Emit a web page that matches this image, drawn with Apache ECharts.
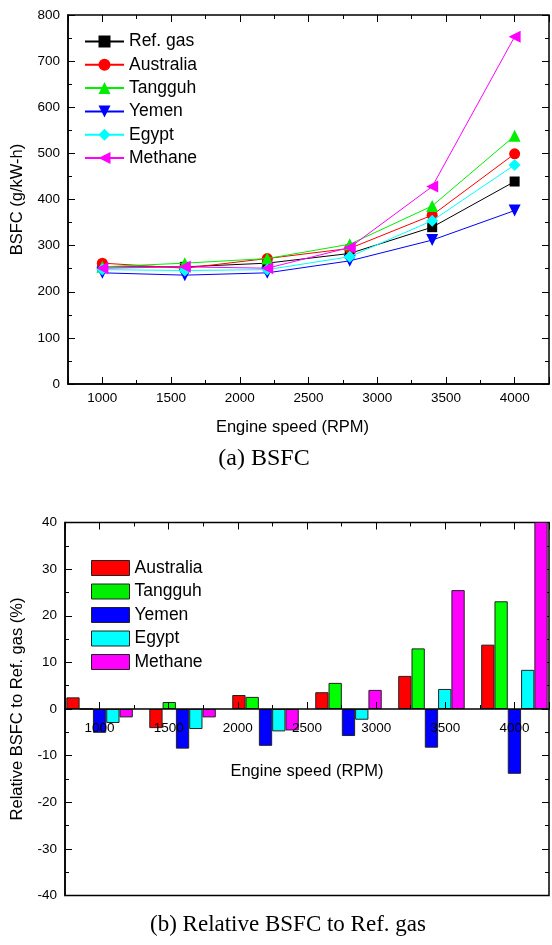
<!DOCTYPE html>
<html><head><meta charset="utf-8">
<script src="https://cdn.jsdelivr.net/npm/echarts@6/dist/echarts.min.js"></script>
<style>html,body{margin:0;padding:0;background:#fff}#c{width:552px;height:945px}</style>
</head><body><div id="c"></div>
<script>
// ---------- data ----------
const rpm = [1000, 1600, 2200, 2800, 3400, 4000];
const fuelNames = ['Ref. gas', 'Australia', 'Tangguh', 'Yemen', 'Egypt', 'Methane'];
const bsfcRef       = [254, 254, 262, 283, 340, 439];
const bsfcAustralia = [262, 251, 272, 294, 366, 499];
const bsfcTangguh   = [254, 262, 272, 303, 386, 538];
const bsfcYemen     = [241, 236, 241, 267, 312, 376];
const bsfcEgypt     = [248, 246, 248, 276, 354, 475];
const bsfcMethane   = [251, 254, 251, 296, 428, 753];

const relNames = ['Australia', 'Tangguh', 'Yemen', 'Egypt', 'Methane'];
const relAustralia = [2.5, -4.1, 3.0, 3.6, 7.1, 13.8];
const relTangguh   = [0.0, 1.5, 2.6, 5.6, 13.0, 23.1];
const relYemen     = [-5.1, -8.5, -7.9, -5.8, -8.3, -13.9];
const relEgypt     = [-3.0, -4.3, -4.8, -2.3, 4.3, 8.4];
const relMethane   = [-1.8, -1.8, -4.6, 4.1, 25.5, 71.7];

const xTickLabels = ['1000', '1500', '2000', '2500', '3000', '3500', '4000'];
const yTicksTop = [0, 100, 200, 300, 400, 500, 600, 700, 800];
const yTicksBottom = [-40, -30, -20, -10, 0, 10, 20, 30, 40];

const xName = 'Engine speed (RPM)';
const yNameTop = 'BSFC (g/kW-h)';
const yNameBottom = 'Relative BSFC to Ref. gas (%)';
const captionTop = '(a) BSFC';
const captionBottom = '(b) Relative BSFC to Ref. gas';

// ---------- style ----------
const SANS = 'Liberation Sans, Arial, sans-serif';
const SERIF = 'Liberation Serif, Times New Roman, serif';
const lineColors = ['#000000', '#ff0000', '#00ee00', '#0000ff', '#00ffff', '#ff00ff'];
const barColors = ['#ff0000', '#00ff00', '#0000ff', '#00ffff', '#ff00ff'];
const symbols = ['rect', 'circle', 'triangle', 'triangle', 'diamond', 'triangle'];
const symbolRot = [0, 0, 0, 180, 0, 90];
const symbolSizes = [10, 11, 12, 12, 12, 12];

const X_MIN = 750, X_MAX = 4250;

// grid geometry
const G0 = { left: 68, top: 15, width: 482.5, height: 369 };
const G1 = { left: 65, top: 522.5, width: 485, height: 373 };
// bottom chart: x axis drawn through the zero of the y scale
const zeroOffset1 = -G1.height * (0 - yTicksBottom[0]) / (yTicksBottom[yTicksBottom.length - 1] - yTicksBottom[0]);

function makeXAxes(gi, offset, nameGap, namePad, labelMargin) {
  const base = { gridIndex: gi, type: 'value', min: X_MIN, max: X_MAX, splitLine: { show: false } };
  const tickStyle = { color: '#000', width: 1 };
  return [
    Object.assign({}, base, {
      position: 'bottom', offset: offset, interval: 250, zlevel: 1, z: 10,
      axisLine: { show: true, onZero: false, lineStyle: { color: '#000', width: 1.5 } },
      axisTick: { show: true, inside: true, length: 4, lineStyle: tickStyle },
      axisLabel: {
        show: true, margin: labelMargin, color: '#000', fontFamily: SANS, fontSize: 13.5,
        formatter: v => xTickLabels.indexOf(String(v)) >= 0 ? String(v) : ''
      },
      name: xName, nameLocation: 'middle', nameGap: nameGap,
      nameTextStyle: { color: '#000', fontFamily: SANS, fontSize: 16.5, padding: namePad }
    }),
    Object.assign({}, base, {
      position: 'bottom', offset: offset, splitNumber: 7, zlevel: 1, z: 10,
      axisLine: { show: false, onZero: false },
      axisTick: { show: true, inside: true, length: 7, lineStyle: tickStyle },
      axisLabel: { show: false }
    }),
    Object.assign({}, base, {
      position: 'top', interval: 250,
      axisLine: { show: false, onZero: false },
      axisTick: { show: true, inside: true, length: 4, lineStyle: tickStyle },
      axisLabel: { show: false }
    }),
    Object.assign({}, base, {
      position: 'top', splitNumber: 7,
      axisLine: { show: false, onZero: false },
      axisTick: { show: true, inside: true, length: 7, lineStyle: tickStyle },
      axisLabel: { show: false }
    })
  ];
}

function makeYAxes(gi, ticks, name, nameGap) {
  const tickStyle = { color: '#000', width: 1 };
  const base = {
    gridIndex: gi, type: 'value', min: ticks[0], max: ticks[ticks.length - 1],
    interval: ticks[1] - ticks[0], splitLine: { show: false }
  };
  return [
    Object.assign({}, base, {
      position: 'left',
      axisLine: { show: true, onZero: false, lineStyle: { color: '#000', width: 1.5 } },
      axisTick: { show: true, inside: true, length: 7, lineStyle: tickStyle },
      minorTick: { show: true, splitNumber: 2, length: 4, lineStyle: tickStyle },
      axisLabel: { show: true, margin: 8, color: '#000', fontFamily: SANS, fontSize: 13.5 },
      name: name, nameLocation: 'middle', nameGap: nameGap, nameRotate: 90,
      nameTextStyle: { color: '#000', fontFamily: SANS, fontSize: 16.5 }
    }),
    Object.assign({}, base, {
      position: 'right',
      axisLine: { show: false, onZero: false },
      axisTick: { show: true, inside: true, length: 7, lineStyle: tickStyle },
      minorTick: { show: true, splitNumber: 2, length: 4, lineStyle: tickStyle },
      axisLabel: { show: false }
    })
  ];
}

const bsfcSets = [bsfcRef, bsfcAustralia, bsfcTangguh, bsfcYemen, bsfcEgypt, bsfcMethane];
const relSets = [relAustralia, relTangguh, relYemen, relEgypt, relMethane];

const series = [];
fuelNames.forEach((n, i) => {
  series.push({
    type: 'line', name: n, xAxisIndex: 0, yAxisIndex: 0,
    data: rpm.map((x, k) => [x, bsfcSets[i][k]]),
    symbol: symbols[i], symbolRotate: symbolRot[i], symbolSize: symbolSizes[i],
    showAllSymbol: true,
    lineStyle: { color: lineColors[i], width: 1 },
    itemStyle: { color: lineColors[i] },
    z: 3 + i
  });
});
relNames.forEach((n, i) => {
  series.push({
    type: 'bar', name: n, xAxisIndex: 4, yAxisIndex: 2,
    data: rpm.map((x, k) => [x, relSets[i][k]]),
    barWidth: 13.3, barGap: '0%',
    itemStyle: { color: barColors[i], borderColor: '#222', borderWidth: 1 }
  });
});

const option = {
  animation: false,
  backgroundColor: '#fff',
  grid: [
    Object.assign({ show: true, borderColor: '#000', borderWidth: 1.5, backgroundColor: 'transparent' }, G0),
    Object.assign({ show: true, borderColor: '#000', borderWidth: 1.5, backgroundColor: 'transparent' }, G1)
  ],
  xAxis: [].concat(makeXAxes(0, 0, 35, [0, 32, 0, 0], 7), makeXAxes(1, zeroOffset1, 54, [0, 0, 0, 0], 12)),
  yAxis: [].concat(makeYAxes(0, yTicksTop, yNameTop, 42), makeYAxes(1, yTicksBottom, yNameBottom, 39)),
  legend: [
    {
      data: fuelNames, orient: 'vertical', left: 79, top: 27.5,
      itemWidth: 39, itemHeight: 15, itemGap: 5.3, symbolRotate: 'inherit',
      textStyle: { color: '#000', fontFamily: SANS, fontSize: 17.5, lineHeight: 17 }
    },
    {
      data: relNames, orient: 'vertical', left: 86, top: 554, icon: 'rect',
      itemWidth: 38, itemHeight: 15, itemGap: 5.5,
      itemStyle: { borderColor: '#222', borderWidth: 1 },
      textStyle: { color: '#000', fontFamily: SANS, fontSize: 17.5, lineHeight: 17 }
    }
  ],
  graphic: [
    { type: 'text', x: 264, y: 459, style: { text: captionTop, font: '24px ' + SERIF, fill: '#000', align: 'center', verticalAlign: 'middle' } },
    { type: 'text', x: 288, y: 925, style: { text: captionBottom, font: '23px ' + SERIF, fill: '#000', align: 'center', verticalAlign: 'middle' } }
  ],
  series: series
};

const chart = echarts.init(document.getElementById('c'), null, { renderer: 'canvas' });
chart.setOption(option);
</script>
</body></html>
